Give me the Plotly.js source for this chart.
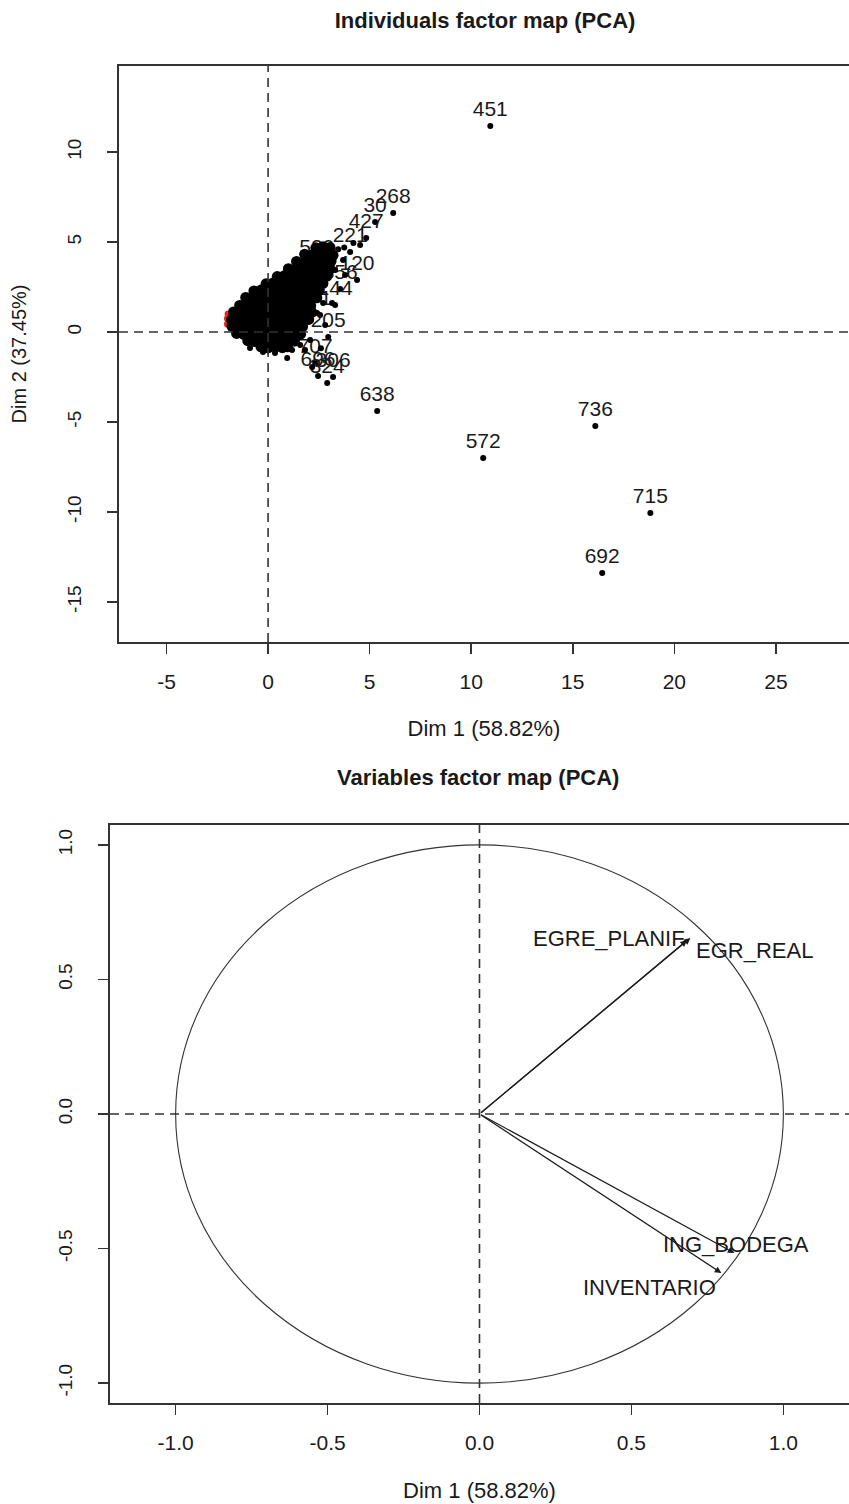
<!DOCTYPE html>
<html>
<head>
<meta charset="utf-8">
<script src="https://cdn.plot.ly/plotly-3.0.1.min.js"></script>
<style>html,body{margin:0;padding:0;background:#fff;}#chart{width:849px;height:1504px;}</style>
</head>
<body>
<div id="chart"></div>
<script>
// ---------- Individuals factor map (PCA) ----------
// labelled individuals (Dim 1, Dim 2)
const indLabels = ["451","268","30","427","221","529","120","356","144","71","205","707","696","306","324","638","572","736","715","692"];
const indDim1   = [10.94, 6.16, 5.27, 4.83, 4.04, 2.40, 4.38, 3.55, 3.30, 2.56, 2.96, 2.32, 2.46, 3.20, 2.91, 5.37, 10.59, 16.11, 18.82, 16.45];
const indDim2   = [11.44, 6.61, 6.11, 5.22, 4.44, 3.78, 2.89, 2.39, 1.50, 0.94, -0.28, -1.72, -2.44, -2.50, -2.83, -4.39, -7.00, -5.22, -10.06, -13.39];

// sparse individuals around the dense cloud
const sparseDim1 = [3.69, 3.15, 2.71, 2.41, 1.18, 0.94, 0.34, 2.17, 1.58, 1.82, 2.07, 2.81, -0.25, -0.89, 3.30, 3.79, 2.60, 3.45, 3.75, 4.20, 4.53];
const sparseDim2 = [4.00, 1.61, 1.61, 1.06, -1.00, -1.44, -1.17, -1.94, -0.72, -1.00, -0.44, 0.39, -1.11, -0.89, 3.44, 3.17, -0.90, 4.60, 4.70, 4.95, 4.83];

// dense cloud of individuals near the origin
const cloudDim1 = [
  2.35,2.7,3.05,
  1.8,2.15,2.5,2.85,3.2,
  1.4,1.75,2.1,2.45,2.8,3.1,
  1.0,1.35,1.7,2.05,2.4,2.75,3.05,
  0.45,0.8,1.15,1.5,1.85,2.2,2.55,2.9,
  -0.1,0.25,0.6,0.95,1.3,1.65,2.0,2.35,2.7,
  -0.7,-0.35,0.0,0.35,0.7,1.05,1.4,1.75,2.1,2.5,
  -1.1,-0.75,-0.4,-0.05,0.3,0.65,1.0,1.35,1.7,2.05,2.4,
  -1.4,-1.05,-0.7,-0.35,0.0,0.35,0.7,1.05,1.4,1.75,2.1,
  -1.7,-1.35,-1.0,-0.65,-0.3,0.05,0.4,0.75,1.1,1.45,1.8,2.15,
  -1.8,-1.5,-1.15,-0.8,-0.45,-0.1,0.25,0.6,0.95,1.3,1.65,2.0,
  -1.78,-1.45,-1.1,-0.75,-0.4,-0.05,0.3,0.65,1.0,1.35,1.7,
  -1.55,-1.2,-0.85,-0.5,-0.15,0.2,0.55,0.9,1.25,1.6,
  -1.0,-0.65,-0.3,0.05,0.4,0.75,1.1,1.3,
  -0.35,0.0,0.35,0.7,0.95
];
const cloudDim2 = [
  4.68,4.74,4.70,
  4.32,4.27,4.35,4.30,4.26,
  3.92,3.88,3.95,3.90,3.86,3.93,
  3.52,3.47,3.55,3.50,3.46,3.53,3.49,
  3.08,3.13,3.06,3.12,3.09,3.14,3.07,3.11,
  2.68,2.73,2.66,2.72,2.69,2.74,2.67,2.71,2.70,
  2.28,2.33,2.27,2.31,2.29,2.34,2.26,2.32,2.28,2.30,
  1.92,1.87,1.93,1.88,1.91,1.86,1.94,1.89,1.92,1.87,1.90,
  1.48,1.53,1.47,1.52,1.49,1.54,1.46,1.51,1.48,1.53,1.47,
  1.12,1.07,1.13,1.08,1.11,1.06,1.14,1.09,1.12,1.07,1.13,1.10,
  0.68,0.73,0.67,0.72,0.69,0.74,0.66,0.71,0.68,0.73,0.67,0.70,
  0.32,0.27,0.33,0.28,0.31,0.26,0.34,0.29,0.32,0.27,0.30,
  -0.08,-0.13,-0.07,-0.12,-0.09,-0.14,-0.06,-0.11,-0.08,-0.12,
  -0.48,-0.53,-0.47,-0.52,-0.49,-0.54,-0.46,-0.51,
  -0.83,-0.88,-0.84,-0.87,-0.82
];

// red individuals at the left edge of the cloud
const redDim1 = [-2.0, -2.0, -1.97];
const redDim2 = [0.45, 0.75, 1.0];

const indXTicks = [-5, 0, 5, 10, 15, 20, 25];
const indYTicks = [-15, -10, -5, 0, 5, 10];

// ---------- Variables factor map (PCA) ----------
const varNames = ["EGRE_PLANIF", "EGR_REAL", "ING_BODEGA", "INVENTARIO"];
const varDim1  = [0.683, 0.694, 0.839, 0.796];
const varDim2  = [0.646, 0.654, -0.517, -0.591];
const varTicks = [-1.0, -0.5, 0.0, 0.5, 1.0];
const varTickText = ["-1.0", "-0.5", "0.0", "0.5", "1.0"];

const FONT = "Liberation Sans, Arial, sans-serif";
const INK = "#1a1a1a";
const AX = "#333333";

const traces = [
  {x: redDim1, y: redDim2, type: "scatter", mode: "markers", xaxis: "x", yaxis: "y",
   marker: {color: "#e8281e", size: 7}, hoverinfo: "skip", showlegend: false},
  {x: indDim1, y: indDim2, text: indLabels, type: "scatter", mode: "markers+text", xaxis: "x", yaxis: "y",
   textposition: "top center", textfont: {family: FONT, size: 21, color: INK},
   marker: {color: "#000", size: 6}, hoverinfo: "skip", showlegend: false},
  {x: cloudDim1, y: cloudDim2, type: "scatter", mode: "markers", xaxis: "x", yaxis: "y",
   marker: {color: "#000", size: 11}, hoverinfo: "skip", showlegend: false},
  {x: sparseDim1, y: sparseDim2, type: "scatter", mode: "markers", xaxis: "x", yaxis: "y",
   marker: {color: "#000", size: 6}, hoverinfo: "skip", showlegend: false}
];

const dashLine = {color: AX, width: 1.6, dash: "9px,6px"};
const shapes = [
  // individuals map reference lines
  {type: "line", xref: "x", yref: "y domain", x0: 0, x1: 0, y0: 0, y1: 1, line: dashLine},
  {type: "line", xref: "x domain", yref: "y", x0: 0, x1: 1, y0: 0, y1: 0, line: dashLine},
  // variables map reference lines
  {type: "line", xref: "x2", yref: "y2 domain", x0: 0, x1: 0, y0: 0, y1: 1, line: dashLine},
  {type: "line", xref: "x2 domain", yref: "y2", x0: 0, x1: 1, y0: 0, y1: 0, line: dashLine},
  // correlation circle
  {type: "circle", xref: "x2", yref: "y2", x0: -1, x1: 1, y0: -1, y1: 1, line: {color: AX, width: 1.1}}
];

const annotations = [
  {text: "<b>Variables factor map (PCA)</b>", xref: "paper", yref: "paper", x: 478/849, y: 1 - 777/1504,
   xanchor: "center", yanchor: "middle", showarrow: false, font: {family: FONT, size: 22, color: INK}}
];
// arrows from origin
varNames.forEach((n, i) => {
  annotations.push({x: varDim1[i], y: varDim2[i], xref: "x2", yref: "y2", ax: 0, ay: 0, axref: "x2", ayref: "y2",
    text: "", showarrow: true, arrowhead: 2, arrowsize: 1.1, arrowwidth: 1.2, arrowcolor: INK, standoff: 0});
});
// variable labels
const labelPlace = [
  {xanchor: "right", yanchor: "middle", xshift: 0, yshift: 2},
  {xanchor: "left", yanchor: "middle", xshift: 4, yshift: -12},
  {xanchor: "center", yanchor: "middle", xshift: 2, yshift: 9},
  {xanchor: "right", yanchor: "middle", xshift: -3, yshift: -14}
];
varNames.forEach((n, i) => {
  annotations.push(Object.assign({x: varDim1[i], y: varDim2[i], xref: "x2", yref: "y2", text: n, showarrow: false,
    font: {family: FONT, size: 22, color: INK}}, labelPlace[i]));
});

const axisBase = {
  showgrid: false, zeroline: false, showline: true, linecolor: AX, linewidth: 1.6,
  ticks: "outside", ticklen: 10, tickwidth: 1.6, tickcolor: AX,
  tickfont: {family: FONT, size: 21, color: INK}
};
const yTickFont = {family: FONT, size: 19, color: INK};

const layout = {
  width: 849, height: 1504,
  margin: {l: 0, r: 0, t: 0, b: 0},
  paper_bgcolor: "#fff", plot_bgcolor: "#fff",
  showlegend: false, hovermode: false,
  font: {family: FONT, color: INK},
  title: {text: "<b>Individuals factor map (PCA)</b>", x: 485/849, xanchor: "center", y: 1 - 20/1504, yanchor: "middle",
          font: {family: FONT, size: 22, color: INK}},
  xaxis: Object.assign({}, axisBase, {
    domain: [119/849, 1], range: [-7.34, 28.6], anchor: "y", mirror: true,
    tickmode: "array", tickvals: indXTicks, ticktext: indXTicks.map(String), ticklabelstandoff: 10,
    title: {text: "Dim 1 (58.82%)", font: {family: FONT, size: 22, color: INK}, standoff: 29}
  }),
  yaxis: Object.assign({}, axisBase, {
    domain: [1 - 642/1504, 1 - 66/1504], range: [-17.22, 14.78], anchor: "x", mirror: false,
    tickmode: "array", tickvals: indYTicks, ticktext: indYTicks.map(String), tickangle: -90, ticklabelstandoff: 19,
    tickfont: yTickFont,
    title: {text: "Dim 2 (37.45%)", font: {family: FONT, size: 20, color: INK}, standoff: 32}
  }),
  xaxis2: Object.assign({}, axisBase, {
    domain: [110/849, 1], range: [-1.216, 1.216], anchor: "y2", mirror: true,
    tickmode: "array", tickvals: varTicks, ticktext: varTickText, ticklabelstandoff: 10,
    title: {text: "Dim 1 (58.82%)", font: {family: FONT, size: 22, color: INK}, standoff: 30}
  }),
  yaxis2: Object.assign({}, axisBase, {
    domain: [1 - 1403/1504, 1 - 825/1504], range: [-1.074, 1.074], anchor: "x2", mirror: true,
    tickmode: "array", tickvals: varTicks, ticktext: varTickText, tickangle: -90, ticklabelstandoff: 19,
    tickfont: yTickFont
  }),
  shapes: shapes,
  annotations: annotations
};

Plotly.newPlot("chart", traces, layout, {staticPlot: true, displayModeBar: false});
</script>
</body>
</html>
